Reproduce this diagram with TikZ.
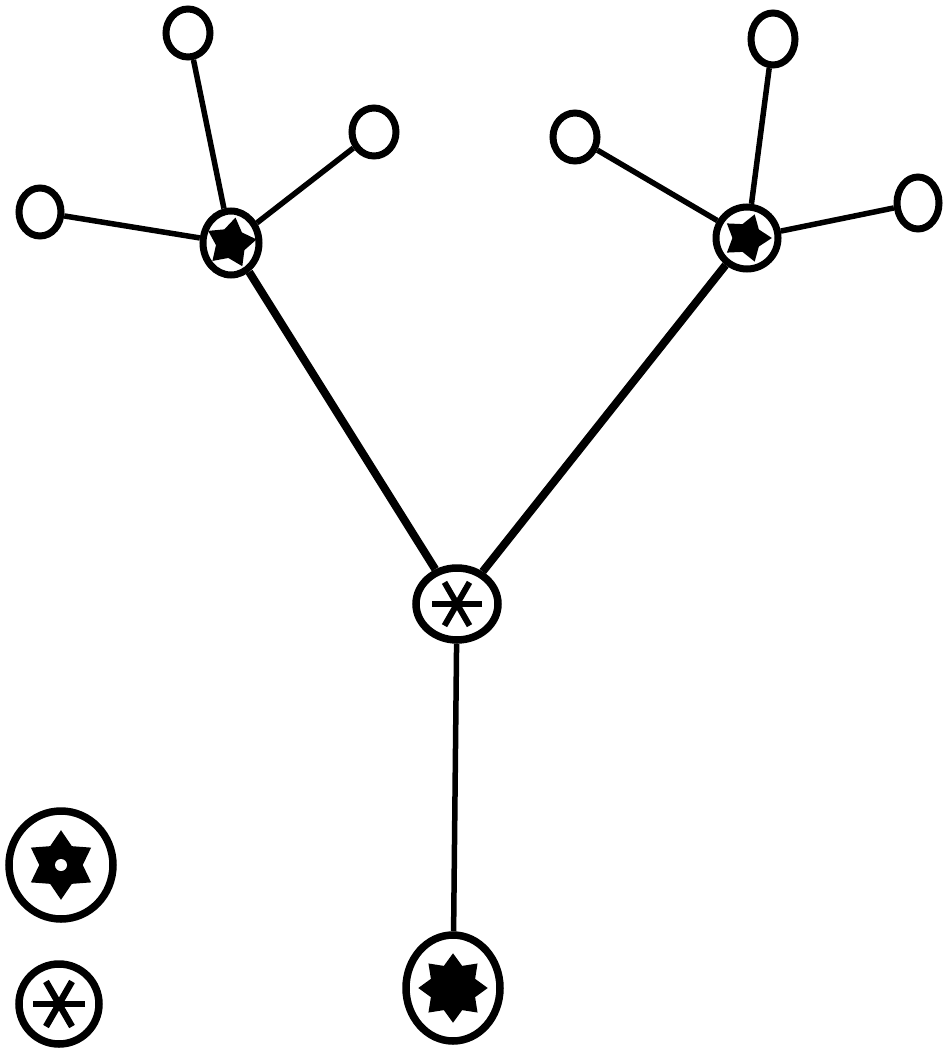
\documentclass[tikz,border=0pt]{standalone}
\usetikzlibrary{shapes.geometric}
\begin{document}
\begin{tikzpicture}[x=1pt,y=-1pt,
  leaf/.style={draw,ellipse,line width=7pt,inner sep=0pt,minimum width=44pt,minimum height=48pt},
  hub/.style={draw,ellipse,line width=7pt,inner sep=0pt,minimum width=58pt,minimum height=62pt},
  big/.style={draw,ellipse,line width=7.5pt,inner sep=0pt},
  thin/.style={line width=5.5pt},
  thick/.style={line width=8pt},
  blob/.style={star,fill=black,draw=black,line width=2pt,inner sep=0pt}]
\useasboundingbox (0,0) rectangle (951,1049);
% leaves
\node[leaf] (l1) at (188,33) {};
\node[leaf] (l2) at (374,132) {};
\node[leaf,minimum width=42pt] (l3) at (40,212) {};
\node[leaf,minimum height=52pt] (r1) at (773,39) {};
\node[leaf] (r2) at (575,137) {};
\node[leaf,minimum width=42pt,minimum height=52pt] (r3) at (918,203) {};
% hubs
\node[hub,minimum width=56pt,minimum height=64pt] (lh) at (231,243) {};
\node[hub,minimum width=62pt] (rh) at (747,238) {};
\node[big,minimum width=82pt,minimum height=72pt] (c) at (457,604) {};
\node[big,minimum width=94pt,minimum height=106pt] (b) at (453,988) {};
\node[big,minimum width=104pt,minimum height=108pt] (s1) at (61,865) {};
\node[big,minimum width=80pt,minimum height=80pt] (s2) at (59,1004) {};
% edges
\draw[thin] (lh) -- (l1);
\draw[thin] (lh) -- (l2);
\draw[thin] (lh) -- (l3);
\draw[thin] (rh) -- (r1);
\draw[thin] (rh) -- (r2);
\draw[thin] (rh) -- (r3);
\draw[thick] (c) -- (lh);
\draw[thick] (c) -- (rh);
\draw[thin] (c) -- (b);
% symbols
\node[blob,star points=5,star point ratio=1.7,minimum size=48pt,rotate=-10] (lhs) at (lh) {};
\node[blob,star points=5,star point ratio=1.7,minimum size=46pt,rotate=-90] (rhs) at (rh) {};
\node[blob,star points=8,star point ratio=1.45,minimum size=66pt] (bs) at (b) {};
\node[blob,star points=6,star point ratio=1.6,minimum size=66pt] (s1s) at (s1) {};
\fill[white] (s1) circle (6);
\foreach \a in {0,60,120} {
  \draw[line width=6pt] (c) ++(\a:25) -- ++(\a+180:50);
  \draw[line width=6.5pt] (s2) ++(\a:26) -- ++(\a+180:52);
}
\end{tikzpicture}
\end{document}
